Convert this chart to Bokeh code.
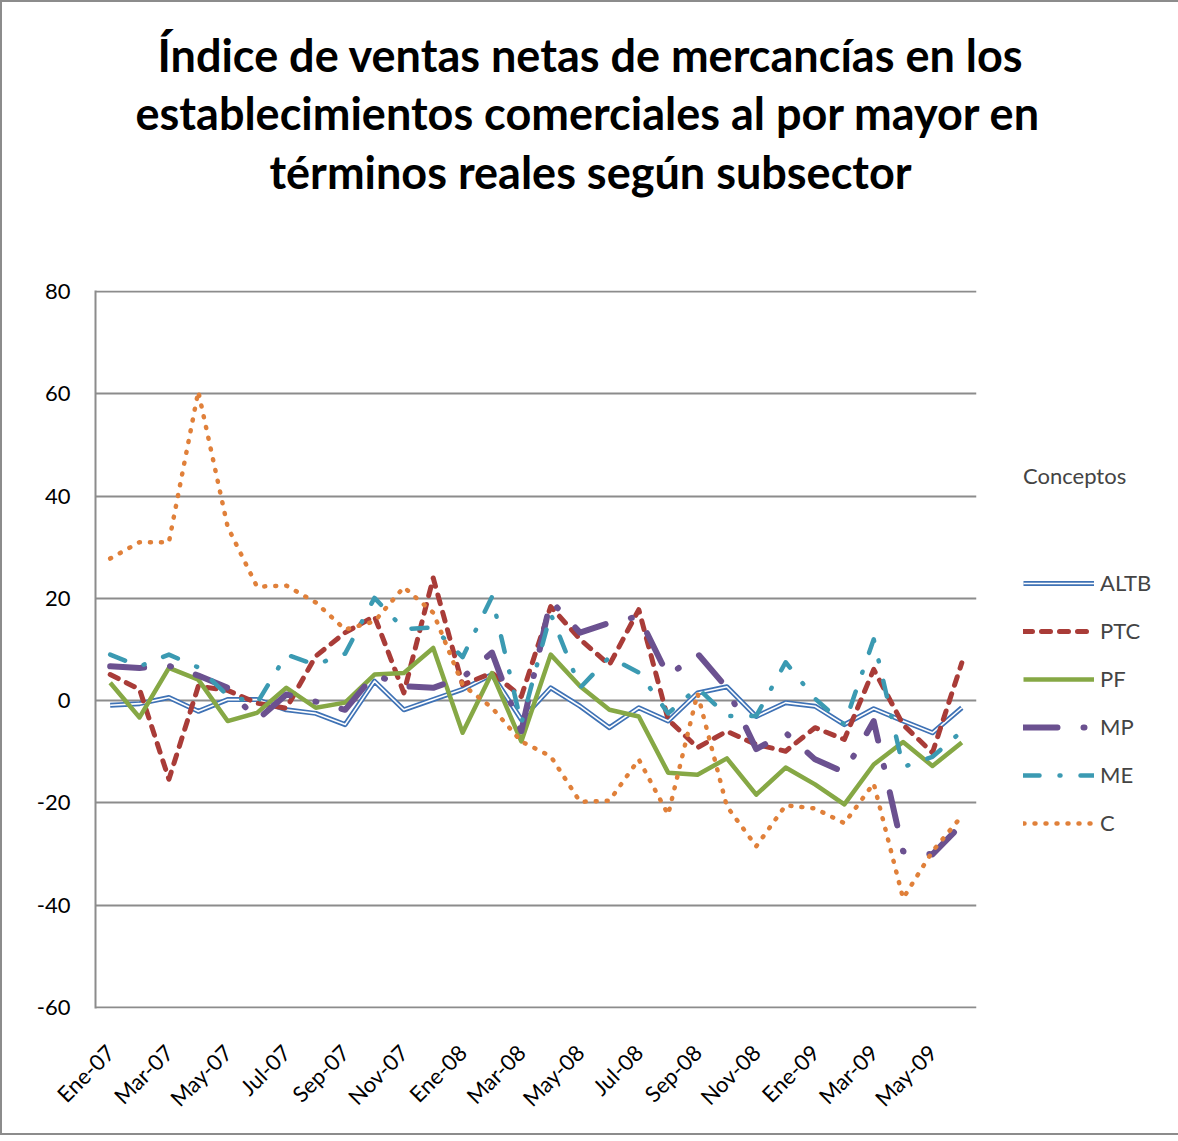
from bokeh.plotting import figure
from bokeh.models import (ColumnDataSource, Legend, LegendItem, FixedTicker,
                          Range1d, Title)
from bokeh.embed import file_html
from bokeh.resources import INLINE

months = ["Ene-07", "Feb-07", "Mar-07", "Abr-07", "May-07", "Jun-07",
          "Jul-07", "Ago-07", "Sep-07", "Oct-07", "Nov-07", "Dic-07",
          "Ene-08", "Feb-08", "Mar-08", "Abr-08", "May-08", "Jun-08",
          "Jul-08", "Ago-08", "Sep-08", "Oct-08", "Nov-08", "Dic-08",
          "Ene-09", "Feb-09", "Mar-09", "Abr-09", "May-09", "Jun-09"]

ALTB = [-0.9, -0.6, 0.6, -2.1, 0.2, 0.2, -1.8, -2.5, -4.7, 3.8, -1.8, 0.2,
        2.2, 5.1, -3.7, 2.5, -1.1, -5.3, -1.4, -4.0, 1.5, 2.7, -3.1, -0.4,
        -1.1, -4.7, -1.6, -4.0, -6.3, -1.4]
PTC = [5.1, 2.2, -15.4, 2.8, 2.0, -0.5, -1.5, 8.7, 13.3, 16.5, 1.5, 24.0,
       3.1, 5.4, 0.8, 18.4, 12.0, 7.0, 17.8, -3.7, -9.2, -6.0, -8.6, -9.9,
       -5.3, -7.6, 6.1, -4.7, -10.2, 7.4]
PF = [3.5, -3.3, 6.4, 4.1, -4.0, -2.4, 2.5, -1.4, -0.4, 5.1, 5.4, 10.3,
      -6.3, 5.4, -8.0, 9.0, 2.8, -1.8, -3.1, -14.1, -14.5, -11.3, -18.4,
      -13.1, -16.4, -20.3, -12.5, -8.1, -12.8, -8.2]
MP = [6.7, 6.4, 6.8, 4.9, 2.5, -3.8, 1.2, -0.2, -1.8, 5.1, 2.8, 2.5,
      4.5, 9.4, -6.0, 19.6, 13.3, 15.2, 16.5, 4.8, 9.2, 2.5, -9.5, -6.3,
      -11.5, -14.0, -4.0, -29.5, -30.1, -24.2]
ME = [9.0, 6.7, 9.0, 6.5, 1.0, -0.5, 9.0, 7.0, 9.2, 20.1, 14.0, 14.3,
      8.5, 20.3, -4.5, 17.0, 2.5, 8.5, 5.5, -2.5, 2.5, -3.0, -3.0, 7.5,
      0.4, -4.7, 12.0, -13.0, -11.0, -6.0]
C = [27.8, 31.0, 31.0, 60.5, 34.0, 22.3, 22.5, 19.2, 13.9, 15.5, 22.2, 17.2,
     3.1, -1.4, -8.0, -10.9, -19.8, -19.6, -11.5, -22.3, 1.4, -20.7, -28.5,
     -20.5, -21.1, -24.0, -16.2, -38.7, -29.5, -22.6]

title_lines = ["Índice de ventas netas de mercancías en los",
               "establecimientos comerciales al por mayor en",
               "términos reales según subsector"]

y_ticks = [-60, -40, -20, 0, 20, 40, 60, 80]
x_idx = list(range(len(months)))
x_ticks = x_idx[::2]

source = ColumnDataSource(dict(x=x_idx, month=months, ALTB=ALTB, PTC=PTC,
                               PF=PF, MP=MP, ME=ME, C=C))

FONT = "Lato"

p = figure(frame_width=881, frame_height=718, title=None,
           x_range=Range1d(-0.5, len(months) - 0.5),
           y_range=Range1d(-60.25, 80.25), output_backend="svg",
           toolbar_location=None, min_border_left=93, min_border_right=150,
           min_border_bottom=125, min_border_top=288,
           background_fill_color="white", border_fill_color="white")
p.outline_line_color = None
p.styles = {"border": "2px solid #8c8c8c"}

# blank spacer between the title block and the plot area
p.add_layout(Title(text=" ", standoff=77, text_font=FONT,
                   text_font_size="10px"), "above")

# title: three centred lines (added bottom line first; later ones stack above)
title_offsets = [62, 40, 174]
title_standoffs = [2, 3, 2]
for txt, off, so in reversed(list(zip(title_lines, title_offsets,
                                      title_standoffs))):
    t = Title(text=txt, align="left", offset=off, standoff=so,
              text_font=FONT, text_font_style="bold",
              text_font_size="45px", text_color="black")
    p.add_layout(t, "above")

# axes
p.yaxis.ticker = FixedTicker(ticks=y_ticks)
p.yaxis.major_label_overrides = {t: str(t) for t in y_ticks}
p.yaxis.major_label_text_font = FONT
p.yaxis.major_label_text_font_size = "22px"
p.yaxis.major_label_text_color = "black"
p.yaxis.major_tick_line_color = None
p.yaxis.minor_tick_line_color = None
p.yaxis.major_label_standoff = 19
p.yaxis.axis_line_color = "#8c8c8c"
p.yaxis.axis_line_width = 2

p.xaxis.ticker = FixedTicker(ticks=x_ticks)
p.xaxis.major_label_overrides = {i: months[i] for i in x_ticks}
p.xaxis.major_label_orientation = 0.785398
p.xaxis.major_label_text_font = FONT
p.xaxis.major_label_text_font_size = "22px"
p.xaxis.major_label_text_color = "black"
p.xaxis.major_tick_line_color = None
p.xaxis.minor_tick_line_color = None
p.xaxis.axis_line_color = None
p.xaxis.major_label_standoff = 34

p.xgrid.grid_line_color = None
p.ygrid.grid_line_color = "#8c8c8c"
p.ygrid.grid_line_width = 2
p.ygrid.ticker = FixedTicker(ticks=y_ticks)

# series
r_altb_out = p.line("x", "ALTB", source=source, line_color="#3F72B5",
                    line_width=5, line_join="round")
r_altb_in = p.line("x", "ALTB", source=source, line_color="white",
                   line_width=1.6, line_join="round")
r_ptc = p.line("x", "PTC", source=source, line_color="#A93C38",
               line_width=5, line_dash="9 9", line_cap="round",
               line_join="round")
r_pf = p.line("x", "PF", source=source, line_color="#86A845",
              line_width=4.5, line_join="round")
r_mp = p.line("x", "MP", source=source, line_color="#6B5190",
              line_width=6, line_dash="34 26 1 26", line_cap="round",
              line_join="round")
r_me = p.line("x", "ME", source=source, line_color="#3B9AB2",
              line_width=4.5, line_dash="16 20 1 20", line_cap="round",
              line_join="round")
r_c = p.line("x", "C", source=source, line_color="#E0803A",
             line_width=4.5, line_dash="1 10", line_cap="round",
             line_join="round")

legend = Legend(items=[
    LegendItem(label="ALTB", renderers=[r_altb_out, r_altb_in]),
    LegendItem(label="PTC", renderers=[r_ptc]),
    LegendItem(label="PF", renderers=[r_pf]),
    LegendItem(label="MP", renderers=[r_mp]),
    LegendItem(label="ME", renderers=[r_me]),
    LegendItem(label="C", renderers=[r_c]),
], location="center_left")
legend.title = "Conceptos"
legend.title_text_font = FONT
legend.title_text_font_size = "22px"
legend.title_text_font_style = "normal"
legend.title_standoff = 80
legend.label_text_font = FONT
legend.label_text_font_size = "22px"
legend.glyph_width = 71
legend.glyph_height = 24
legend.label_height = 24
legend.spacing = 21
legend.label_standoff = 6
legend.border_line_color = None
legend.background_fill_alpha = 0
legend.margin = 47
legend.padding = 10
p.add_layout(legend, "right")

open("out.html", "w").write(file_html(p, INLINE))
